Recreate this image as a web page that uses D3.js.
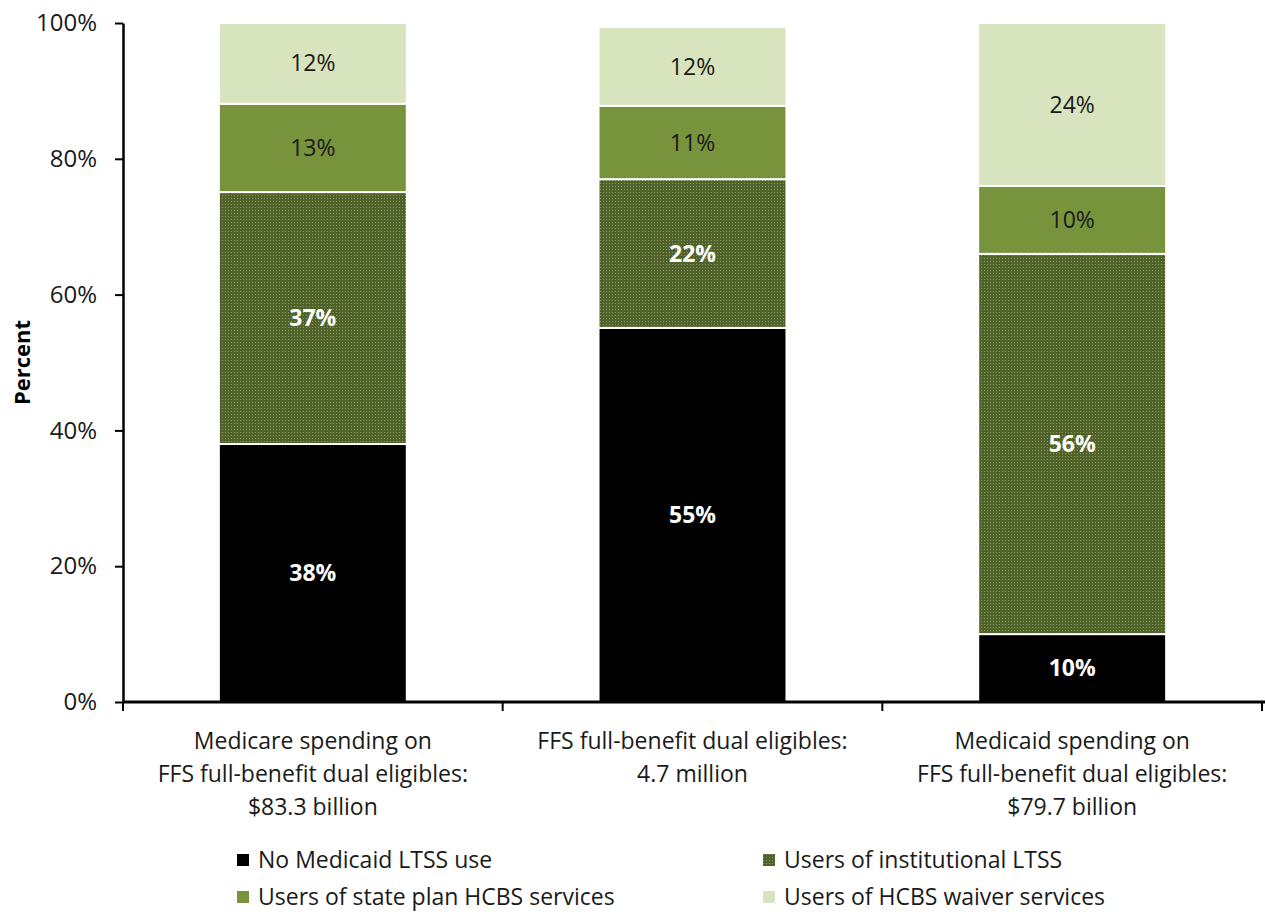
<!DOCTYPE html>
<html>
<head>
<meta charset="utf-8">
<script src="https://cdn.jsdelivr.net/npm/d3@7"></script>
<style>
  body { margin: 0; background: #fff; }
  svg text { font-family: "Open Sans", sans-serif; }
</style>
</head>
<body>
<div id="chart"></div>
<script>
// Data (percent of each total)
const categories = ['medicare', 'eligibles', 'medicaid']
const categoryLabels = [
    ['Medicare spending on', 'FFS full-benefit dual eligibles:', '$83.3 billion'],
    ['FFS full-benefit dual eligibles:', '4.7 million'],
    ['Medicaid spending on', 'FFS full-benefit dual eligibles:', '$79.7 billion']
]
const seriesNames = ['No Medicaid LTSS use', 'Users of institutional LTSS',
    'Users of state plan HCBS services', 'Users of HCBS waiver services']
const noLtss = [38.0, 55.1, 10.0]
const institutional = [37.1, 21.9, 56.0]
const statePlan = [13.0, 10.8, 10.0]
const waiver = [11.9, 11.6, 24.0]
const valueLabels = [
    ['38%', '55%', '10%'],
    ['37%', '22%', '56%'],
    ['13%', '11%', '10%'],
    ['12%', '12%', '24%']
]
const yTicks = [0, 20, 40, 60, 80, 100]

const WIDTH = 1265
const HEIGHT = 914
const margin = { top: 23, right: 3, bottom: 212, left: 123 }

const fills = ['#000000', 'url(#dots)', '#77933c', '#d7e4bd']
const labelStyle = [
    { color: '#fff', weight: 700 },
    { color: '#fff', weight: 700 },
    { color: '#1a1a1a', weight: 400 },
    { color: '#1a1a1a', weight: 400 }
]

const svg = d3.select('#chart')
    .append('svg')
    .attr('width', WIDTH)
    .attr('height', HEIGHT)

// Dotted texture for institutional LTSS
const pattern = svg.append('defs')
    .append('pattern')
    .attr('id', 'dots')
    .attr('patternUnits', 'userSpaceOnUse')
    .attr('width', 3)
    .attr('height', 3)
pattern.append('rect').attr('width', 3).attr('height', 3).attr('fill', '#4f6228')
pattern.append('rect').attr('width', 1).attr('height', 1).attr('fill', '#8c9c6c')

const x = d3.scaleBand()
    .domain(categories)
    .range([margin.left, WIDTH - margin.right])
    .paddingInner(0.505)
    .paddingOuter(0.2525)

const y = d3.scaleLinear()
    .domain([0, 100])
    .range([HEIGHT - margin.bottom, margin.top])

const table = categories.map((c, i) => ({
    key: c,
    s0: noLtss[i], s1: institutional[i], s2: statePlan[i], s3: waiver[i]
}))
const stacked = d3.stack().keys(['s0', 's1', 's2', 's3'])(table)

const layer = svg.selectAll('.layer')
    .data(stacked)
    .enter()
    .append('g')
    .attr('class', 'layer')

layer.selectAll('rect')
    .data((d, si) => d.map((p, ci) => ({ p, si, ci })))
    .enter()
    .append('rect')
    .attr('x', d => x(categories[d.ci]))
    .attr('width', x.bandwidth())
    .attr('y', d => y(d.p[1]))
    .attr('height', d => y(d.p[0]) - y(d.p[1]))
    .attr('fill', d => fills[d.si])
    .attr('stroke', '#fff')
    .attr('stroke-width', 2)

layer.selectAll('text')
    .data((d, si) => d.map((p, ci) => ({ p, si, ci })))
    .enter()
    .append('text')
    .attr('x', d => x(categories[d.ci]) + x.bandwidth() / 2)
    .attr('y', d => (y(d.p[0]) + y(d.p[1])) / 2)
    .attr('dy', '0.35em')
    .attr('text-anchor', 'middle')
    .style('font-size', '23px')
    .style('fill', d => labelStyle[d.si].color)
    .style('font-weight', d => labelStyle[d.si].weight)
    .text(d => valueLabels[d.si][d.ci])

// Y axis
const yAxis = svg.append('g')
    .attr('transform', `translate(${margin.left},0)`)
    .call(d3.axisLeft(y).tickValues(yTicks).tickFormat(d => d + '%').tickSize(8).tickSizeOuter(0))
yAxis.select('.domain').attr('stroke', '#000').attr('stroke-width', 2.5)
yAxis.selectAll('.tick line').attr('stroke', '#000').attr('stroke-width', 2)
yAxis.selectAll('.tick text')
    .attr('x', -26)
    .style('font-size', '24px')
    .style('font-family', '"Open Sans", sans-serif')
    .style('fill', '#1a1a1a')

svg.append('text')
    .attr('transform', `translate(30,${(y(0) + y(100)) / 2}) rotate(-90)`)
    .attr('text-anchor', 'middle')
    .style('font-size', '22px')
    .style('font-weight', 700)
    .text('Percent')

// X axis: line with ticks at band boundaries
const xAxis = svg.append('g')
svg.append('line')
    .attr('x1', margin.left)
    .attr('x2', WIDTH)
    .attr('y1', y(0))
    .attr('y2', y(0))
    .attr('stroke', '#000')
    .attr('stroke-width', 3)
const step = x.step()
const boundaries = categories.map((c, i) => x(c) - x.paddingOuter() * step).concat([x(categories[2]) + x.bandwidth() + x.paddingOuter() * step])
xAxis.selectAll('line')
    .data(boundaries)
    .enter()
    .append('line')
    .attr('x1', d => d)
    .attr('x2', d => d)
    .attr('y1', y(0))
    .attr('y2', y(0) + 9)
    .attr('stroke', '#000')
    .attr('stroke-width', 2)

const xLabel = svg.selectAll('.x-label')
    .data(categories)
    .enter()
    .append('text')
    .attr('class', 'x-label')
    .attr('text-anchor', 'middle')
    .style('font-size', '23px')
    .style('fill', '#1a1a1a')
xLabel.selectAll('tspan')
    .data((d, i) => categoryLabels[i].map(t => ({ t, c: d })))
    .enter()
    .append('tspan')
    .attr('x', d => x(d.c) + x.bandwidth() / 2)
    .attr('y', (d, j) => 749 + j * 33)
    .text(d => d.t)

// Legend
const legendPos = [[237, 860], [763, 860], [237, 897], [763, 897]]
const legendOrder = [0, 1, 2, 3]
const legend = svg.selectAll('.legend')
    .data(legendOrder)
    .enter()
    .append('g')
    .attr('class', 'legend')
    .attr('transform', d => `translate(${legendPos[d][0]},${legendPos[d][1]})`)
legend.append('rect')
    .attr('x', 0)
    .attr('y', -6)
    .attr('width', 12)
    .attr('height', 12)
    .attr('fill', d => fills[d])
legend.append('text')
    .attr('x', 21)
    .attr('dy', '0.35em')
    .style('font-size', '23px')
    .style('fill', '#1a1a1a')
    .text(d => seriesNames[d])
</script>
</body>
</html>
